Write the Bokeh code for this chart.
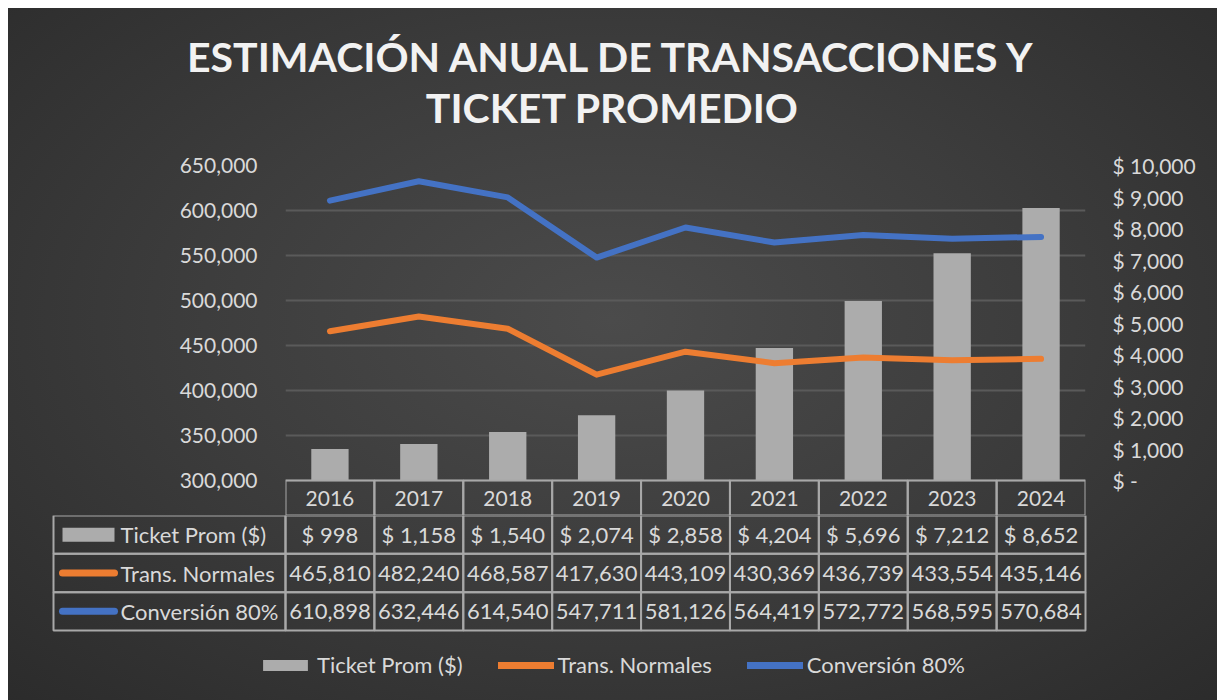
from bokeh.plotting import figure
from bokeh.models import (FactorRange, Range1d, LinearAxis, FixedTicker, NumeralTickFormatter,
                          Legend, LegendItem, ColumnDataSource)
from bokeh.layouts import column
from bokeh.embed import file_html
from bokeh.resources import INLINE
from bokeh.core.properties import value

# ---------------- data ----------------
years = ["2016", "2017", "2018", "2019", "2020", "2021", "2022", "2023", "2024"]
ticket = [998, 1158, 1540, 2074, 2858, 4204, 5696, 7212, 8652]
trans = [465810, 482240, 468587, 417630, 443109, 430369, 436739, 433554, 435146]
conv = [610898, 632446, 614540, 547711, 581126, 564419, 572772, 568595, 570684]
series_names = ["Ticket Prom ($)", "Trans. Normales", "Conversión 80%"]
left_ticks = [300000, 350000, 400000, 450000, 500000, 550000, 600000, 650000]
right_ticks = [0, 1000, 2000, 3000, 4000, 5000, 6000, 7000, 8000, 9000, 10000]
right_tick_labels = ["$ -", "$ 1,000", "$ 2,000", "$ 3,000", "$ 4,000", "$ 5,000",
                     "$ 6,000", "$ 7,000", "$ 8,000", "$ 9,000", "$ 10,000"]
title_lines = ["ESTIMACIÓN ANUAL DE TRANSACCIONES Y", "TICKET PROMEDIO"]

# ---------------- styles / layout ----------------
FONT = "Lato"
TXT = "#d9d9d9"
GRID = "#5a5a5a"
BORDER = "#a8a8a8"
BAR = "#acacac"
ORANGE = "#ED7D31"
BLUE = "#4472C4"

OFF_X, OFF_Y = 8, 8
W, H = 1209, 692
FRAME_L, FRAME_R = 277, 132
FRAME_T = 157
P0_H = 140                   # title strip
P1_H = 507 - P0_H            # chart incl. header row
HEADER_PX = 35
PLOT_PX = 315
COL_PX = (W - FRAME_L - FRAME_R) / len(years)
LABEL_PX = 232
ROW_PX = 115 / 3.0
P2_H = H - 507
PAD = 2
TITLE_Y = [48, 99]
TITLE_CX = 604


def clean(p):
    p.border_fill_color = None
    p.background_fill_color = None
    p.outline_line_color = None
    p.frame_align = False


# ---------------- title strip ----------------
p0 = figure(width=W, height=P0_H, title=None, x_range=Range1d(0, W), y_range=Range1d(P0_H, 0),
            output_backend="svg", toolbar_location=None,
            x_axis_location=None, y_axis_location=None,
            min_border_left=0, min_border_right=0, min_border_top=0, min_border_bottom=0)
clean(p0)
p0.grid.visible = False
p0.text(x=[TITLE_CX] * 2, y=TITLE_Y, text=title_lines, text_font=value(FONT),
        text_font_size="41px", text_font_style="bold", text_color="#f2f2f2",
        text_align="center", text_baseline="middle")

# ---------------- chart ----------------
lpp = (left_ticks[-1] - left_ticks[0]) / PLOT_PX
rpp = (right_ticks[-1] - right_ticks[0]) / PLOT_PX
top_b = FRAME_T - P0_H

p1 = figure(width=W, height=P1_H, title=None,
            x_range=FactorRange(*years),
            y_range=Range1d(left_ticks[0] - HEADER_PX * lpp, left_ticks[-1]),
            output_backend="svg", toolbar_location=None, x_axis_location=None,
            min_border_left=FRAME_L, min_border_right=FRAME_R,
            min_border_top=top_b, min_border_bottom=0)
p1.extra_y_ranges = {"usd": Range1d(right_ticks[0] - HEADER_PX * rpp, right_ticks[-1]),
                     "tbl": Range1d(0, (PLOT_PX + HEADER_PX) / HEADER_PX)}
clean(p1)

ax = p1.yaxis[0]
ax.ticker = FixedTicker(ticks=left_ticks)
ax.formatter = NumeralTickFormatter(format="0,0")
p1.ygrid.ticker = FixedTicker(ticks=left_ticks)
p1.ygrid.grid_line_color = GRID
p1.ygrid.grid_line_width = 2
p1.xgrid.grid_line_color = None

axr = LinearAxis(y_range_name="usd", ticker=FixedTicker(ticks=right_ticks),
                 major_label_overrides={t: l for t, l in zip(right_ticks, right_tick_labels)})
p1.add_layout(axr, "right")
for a, so in ((ax, 28), (axr, 27)):
    a.axis_line_color = None
    a.major_tick_line_color = None
    a.minor_tick_line_color = None
    a.major_tick_out = 0
    a.major_tick_in = 0
    a.minor_tick_out = 0
    a.major_label_text_font = FONT
    a.major_label_text_font_size = "21px"
    a.major_label_text_color = TXT
    a.major_label_standoff = so

src = ColumnDataSource(dict(year=years, ticket=ticket, trans=trans, conv=conv))
p1.vbar(x="year", top="ticket", bottom=0, width=0.42, source=src, y_range_name="usd",
        fill_color=BAR, line_color=None)
p1.line(x="year", y="trans", source=src, line_color=ORANGE, line_width=6,
        line_cap="round", line_join="round")
p1.line(x="year", y="conv", source=src, line_color=BLUE, line_width=6,
        line_cap="round", line_join="round")

# header row of the data table
p1.rect(x="year", y=0.5, width=1, height=1, source=src, y_range_name="tbl",
        fill_color=None, line_color=BORDER, line_width=2)
p1.text(x="year", y=0.5, text="year", source=src, y_range_name="tbl",
        text_font=value(FONT), text_font_size="21px", text_color=TXT,
        text_align="center", text_baseline="middle")

# ---------------- table body + legend ----------------
lw = LABEL_PX / COL_PX
p2 = figure(width=W, height=P2_H, title=None,
            x_range=Range1d(-lw - PAD / COL_PX, len(years) + PAD / COL_PX),
            y_range=Range1d(3 - P2_H / ROW_PX, 3),
            output_backend="svg", toolbar_location=None,
            x_axis_location=None, y_axis_location=None,
            min_border_left=int(FRAME_L - LABEL_PX - PAD), min_border_right=FRAME_R - PAD,
            min_border_top=0, min_border_bottom=0)
clean(p2)
p2.grid.visible = False

rows = [[f"$ {v:,}" for v in ticket], [f"{v:,}" for v in trans], [f"{v:,}" for v in conv]]
cx, cy, ct = [], [], []
for r, vals in enumerate(rows):
    for i, t in enumerate(vals):
        cx.append(i + 0.5)
        cy.append(2.5 - r)
        ct.append(t)
cell = ColumnDataSource(dict(x=cx, y=cy, t=ct))
p2.rect(x="x", y="y", width=1, height=1, source=cell, fill_color=None,
        line_color=BORDER, line_width=2)
p2.text(x="x", y="y", text="t", source=cell, text_font=value(FONT), text_font_size="22px",
        text_color=TXT, text_align="center", text_baseline="middle")

ly = [2.5 - r for r in range(3)]
lab = ColumnDataSource(dict(x=[-lw / 2] * 3, y=ly, tx=[-lw + 67 / COL_PX] * 3, t=series_names))
p2.rect(x="x", y="y", width=lw, height=1, source=lab, fill_color=None,
        line_color=BORDER, line_width=2)
p2.text(x="tx", y="y", text="t", source=lab, text_font=value(FONT), text_font_size="22px",
        text_color=TXT, text_align="left", text_baseline="middle")

sw_x = -lw + 35 / COL_PX
sw_w = 52 / COL_PX
r_bar = p2.rect(x=[sw_x], y=[ly[0]], width=sw_w, height=14 / ROW_PX,
                fill_color=BAR, line_color=None)
r_or = p2.line(x=[sw_x - sw_w / 2, sw_x + sw_w / 2], y=[ly[1], ly[1]], line_color=ORANGE,
               line_width=7, line_cap="round")
r_bl = p2.line(x=[sw_x - sw_w / 2, sw_x + sw_w / 2], y=[ly[2], ly[2]], line_color=BLUE,
               line_width=7, line_cap="round")

legend = Legend(items=[LegendItem(label=series_names[0], renderers=[r_bar]),
                       LegendItem(label=series_names[1], renderers=[r_or]),
                       LegendItem(label=series_names[2], renderers=[r_bl])],
                orientation="horizontal", location=(206, 22),
                glyph_width=56, glyph_height=14, label_standoff=4, spacing=35,
                label_text_font=FONT, label_text_font_size="22px", label_text_color=TXT,
                background_fill_alpha=0, border_line_alpha=0, padding=0, margin=0)
p2.add_layout(legend)

layout = column(p0, p1, p2, spacing=0, margin=(OFF_Y, 0, 0, OFF_X), styles={
    "background": "radial-gradient(ellipse 75% 80% at 50% 45%, #4b4b4b 0%, #3d3d3d 45%, #2a2a2a 100%)"})

open("out.html", "w").write(file_html(layout, INLINE))
